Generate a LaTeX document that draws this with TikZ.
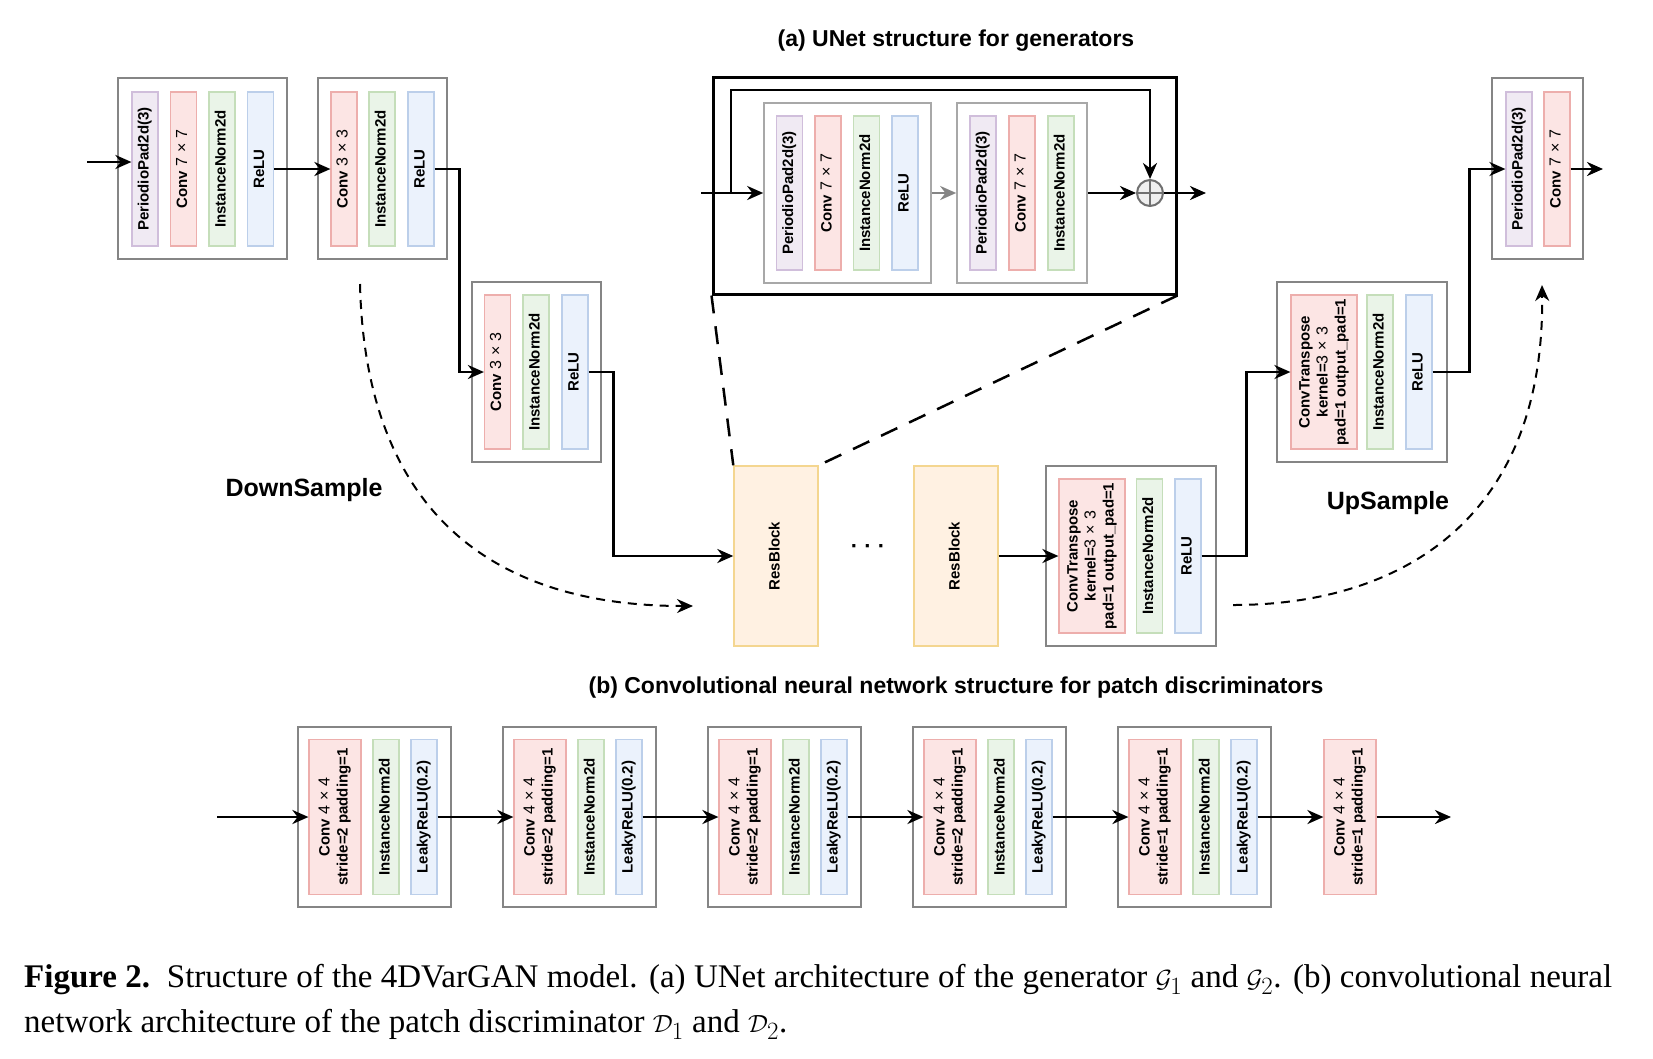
\documentclass[tikz,border=0pt]{standalone}
\usepackage{fontspec}
\setmainfont{Liberation Sans}
\newfontfamily\capfont{Liberation Serif}
\usetikzlibrary{arrows.meta}
\definecolor{ppfill}{HTML}{F0EAF3}
\definecolor{ppline}{HTML}{D0BEDB}
\definecolor{convfill}{HTML}{FCE5E4}
\definecolor{convline}{HTML}{EDAEAC}
\definecolor{normfill}{HTML}{EAF4E8}
\definecolor{normline}{HTML}{C5DEBA}
\definecolor{actfill}{HTML}{EBF2FC}
\definecolor{actline}{HTML}{BCCFEA}
\definecolor{resfill}{HTML}{FFF1E2}
\definecolor{resline}{HTML}{F4D690}
\definecolor{blkgray}{HTML}{858585}
\definecolor{rblkgray}{HTML}{A8A8A8}
\definecolor{addgray}{HTML}{707070}
\definecolor{addfill}{HTML}{EFEFEF}
\newcommand{\vtext}[1]{\rotatebox{90}{\begin{tabular}{@{}c@{}}#1\end{tabular}}}
\newcommand{\ksize}[1]{\textmd{\fontsize{16}{18}\selectfont#1\hspace{5pt}×\hspace{5pt}#1}}

\begin{document}
\begin{tikzpicture}[x=1pt,y=-1pt,
    >={Stealth[length=16pt,width=14pt]},
    every node/.style={font=\fontsize{15}{18}\selectfont\bfseries},
    col/.style={draw,line width=1.2pt,inner sep=0pt,minimum width=26pt,minimum height=154pt},
    ppcol/.style={col,fill=ppfill,draw=ppline},
    convcol/.style={col,fill=convfill,draw=convline},
    normcol/.style={col,fill=normfill,draw=normline},
    actcol/.style={col,fill=actfill,draw=actline},
    blk/.style={draw=blkgray,line width=2.8pt,inner sep=0pt,minimum height=181pt},
    rblk/.style={draw=rblkgray,line width=1.6pt,inner sep=0pt,minimum height=180pt},
    resbox/.style={draw=resline,fill=resfill,line width=1.4pt,inner sep=0pt,minimum width=84pt,minimum height=180pt},
    link/.style={->,line width=2.8pt},
    zoomline/.style={line width=2.5pt,dash pattern=on 18pt off 13pt},
    sampleline/.style={->,line width=2pt,dash pattern=on 9pt off 7pt},
    title/.style={font=\fontsize{23}{28}\selectfont\bfseries},
    sample/.style={font=\fontsize{25}{30}\selectfont\bfseries},
    caption/.style={font=\capfont\fontsize{33}{40}\selectfont,anchor=base west,inner sep=0pt}]
    \useasboundingbox (0,0) rectangle (1653,1058);

    % (a) generator
    \node[title] (titleA) at (956,41) {(a) UNet structure for generators};

    \node[blk,minimum width=169pt] (blkA) at (202.5,168.5) {};
    \node[ppcol] (pp1) at (145,169) {\vtext{PeriodioPad2d(3)}};
    \node[convcol] (conv1) at (183.5,169) {\vtext{Conv \ksize{7}}};
    \node[normcol] (norm1) at (222,169) {\vtext{InstanceNorm2d}};
    \node[actcol] (relu1) at (260.5,169) {\vtext{ReLU}};

    \node[blk,minimum width=129pt] (blkB) at (382.5,168.5) {};
    \node[convcol] (conv2) at (344,169) {\vtext{Conv \ksize{3}}};
    \node[normcol] (norm2) at (382,169) {\vtext{InstanceNorm2d}};
    \node[actcol] (relu2) at (421,169) {\vtext{ReLU}};

    \node[blk,minimum width=129pt,minimum height=180pt] (blkC) at (536.5,372) {};
    \node[convcol] (conv3) at (497.5,372) {\vtext{Conv \ksize{3}}};
    \node[normcol] (norm3) at (536,372) {\vtext{InstanceNorm2d}};
    \node[actcol] (relu3) at (575,372) {\vtext{ReLU}};

    \node[resbox] (res1) at (776,556) {\vtext{ResBlock}};
    \node (dots) at (868,549) {\fontsize{22}{22}\selectfont · · ·};
    \node[resbox] (res2) at (956,556) {\vtext{ResBlock}};

    \node[blk,minimum width=170pt,minimum height=180pt] (upA) at (1131,556) {};
    \node[convcol,minimum width=66pt] (convtA) at (1092,556) {\vtext{ConvTranspose\\kernel=\ksize{3}\\pad=1 output\_pad=1}};
    \node[normcol] (normA) at (1149.5,556) {\vtext{InstanceNorm2d}};
    \node[actcol] (reluA) at (1188,556) {\vtext{ReLU}};

    \node[blk,minimum width=170pt,minimum height=180pt] (upB) at (1362,372) {};
    \node[convcol,minimum width=66pt] (convtB) at (1324,372) {\vtext{ConvTranspose\\kernel=\ksize{3}\\pad=1 output\_pad=1}};
    \node[normcol] (normB) at (1380,372) {\vtext{InstanceNorm2d}};
    \node[actcol] (reluB) at (1419,372) {\vtext{ReLU}};

    \node[blk,minimum width=91pt] (blkF) at (1537.5,168.5) {};
    \node[ppcol] (ppF) at (1519,169) {\vtext{PeriodioPad2d(3)}};
    \node[convcol] (convF) at (1557,169) {\vtext{Conv \ksize{7}}};

    \coordinate (in) at (87,162);
    \coordinate (out) at (1603,169);
    \draw[link] (in) -- (in -| pp1.west);
    \draw[link] (relu1.east) -- (conv2.west);
    \draw[link] (relu2.east) -- ++(25,0) |- (conv3.west);
    \draw[link] (relu3.east) -- ++(25,0) |- (res1.west);
    \draw[link] (res2.east) -- (convtA.west);
    \draw[link] (reluA.east) -- ++(45,0) |- (convtB.west);
    \draw[link] (reluB.east) -- ++(37,0) |- (ppF.west);
    \draw[link] (convF.east) -- (out);

    % resblock detail
    \node[draw,line width=3pt,inner sep=0pt,minimum width=463pt,minimum height=217pt] (detail) at (944.5,185.5) {};
    \node[rblk,minimum width=167pt] (rb1) at (847.5,193) {};
    \node[ppcol] (rpp1) at (789.5,193) {\vtext{PeriodioPad2d(3)}};
    \node[convcol] (rconv1) at (828,193) {\vtext{Conv \ksize{7}}};
    \node[normcol] (rnorm1) at (866.5,193) {\vtext{InstanceNorm2d}};
    \node[actcol] (rrelu1) at (905,193) {\vtext{ReLU}};
    \node[rblk,minimum width=130pt] (rb2) at (1022,193) {};
    \node[ppcol] (rpp2) at (983,193) {\vtext{PeriodioPad2d(3)}};
    \node[convcol] (rconv2) at (1022,193) {\vtext{Conv \ksize{7}}};
    \node[normcol] (rnorm2) at (1061,193) {\vtext{InstanceNorm2d}};
    \node[circle,draw=addgray,fill=addfill,line width=2pt,minimum size=26pt,inner sep=0pt] (add) at (1150,193) {};
    \draw[addgray,line width=2pt] (add.north) -- (add.south) (add.west) -- (add.east);

    \coordinate (rin) at (701,193);
    \coordinate (skip) at (731,193);
    \coordinate (rout) at (1206,193);
    \draw[link] (rin) -- (rb1.west);
    \draw[link] (skip) -- ++(0,-103) -| (add.north);
    \draw[link,draw=blkgray] (rb1.east) -- (rb2.west);
    \draw[link] (rb2.east) -- (add.west);
    \draw[link] (add.east) -- (rout);

    \draw[zoomline] (detail.south west) -- (res1.north west);
    \draw[zoomline] (detail.south east) -- (res1.north east);

    % down and up sampling
    \coordinate (dsA) at (360,284);
    \coordinate (dsB) at (693,606);
    \coordinate (usA) at (1233,605);
    \coordinate (usB) at (1542,285);
    \draw[sampleline] (dsA) .. controls (365,500) and (480,606) .. (dsB);
    \draw[sampleline] (usA) .. controls (1400,605) and (1545,520) .. (usB);
    \node[sample] (down) at (304,490) {DownSample};
    \node[sample] (up) at (1388,503) {UpSample};

    % (b) discriminator
    \node[title] (titleB) at (956,688) {(b) Convolutional neural network structure for patch discriminators};
    \foreach \i/\s in {1/2,2/2,3/2,4/2,5/1}{
        \pgfmathsetmacro{\bx}{298+205*(\i-1)}
        \node[blk,minimum width=153pt,minimum height=180pt] (dblk\i) at (\bx+76.5,817) {};
        \node[convcol,minimum width=52pt,minimum height=155pt] (dconv\i) at (\bx+37,817) {\vtext{Conv \ksize{4}\\stride=\s{} padding=1}};
        \node[normcol,minimum height=155pt] (dnorm\i) at (\bx+88,817) {\vtext{InstanceNorm2d}};
        \node[actcol,minimum height=155pt] (dact\i) at (\bx+126,817) {\vtext{LeakyReLU(0.2)}};
    }
    \node[convcol,minimum width=52pt,minimum height=155pt] (dconv6) at (1350,817) {\vtext{Conv \ksize{4}\\stride=1 padding=1}};
    \coordinate (din) at (217,817);
    \coordinate (dout) at (1451,817);
    \draw[link] (din) -- (dconv1.west);
    \foreach \i in {1,...,5}{
        \pgfmathtruncatemacro{\j}{\i+1}
        \draw[link] (dact\i.east) -- (dconv\j.west);
    }
    \draw[link] (dconv6.east) -- (dout);

    % caption
    \node[caption] (cap1) at (24,987) {\makebox[1588pt][s]{\textbf{Figure 2.}\ \ Structure of the 4DVarGAN model. (a) UNet architecture of the generator $\mathcal{G}_1$ and $\mathcal{G}_2$. (b) convolutional neural}};
    \node[caption] (cap2) at (24,1032) {network architecture of the patch discriminator $\mathcal{D}_1$ and $\mathcal{D}_2$.};
\end{tikzpicture}
\end{document}
